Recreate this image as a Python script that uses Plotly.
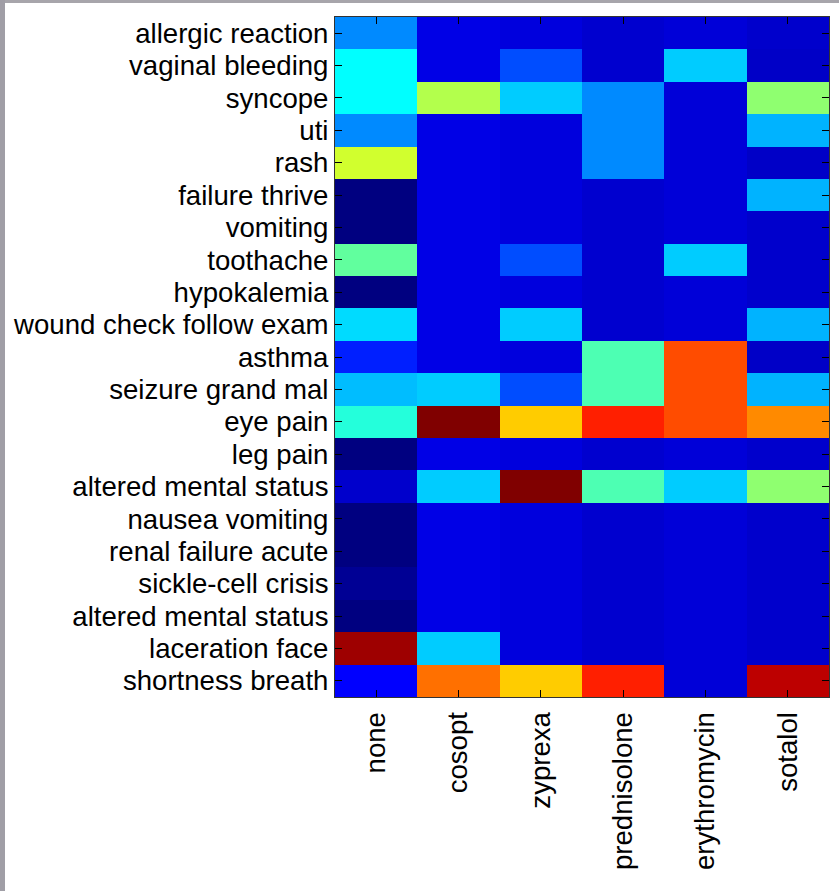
import plotly.graph_objects as go

complaints = ["allergic reaction", "vaginal bleeding", "syncope", "uti", "rash",
              "failure thrive", "vomiting", "toothache", "hypokalemia",
              "wound check follow exam", "asthma", "seizure grand mal", "eye pain",
              "leg pain", "altered mental status", "nausea vomiting",
              "renal failure acute", "sickle-cell crisis", "altered mental status",
              "laceration face", "shortness breath"]
drugs = ["none", "cosopt", "zyprexa", "prednisolone", "erythromycin", "sotalol"]

# values per drug (column), top row to bottom row
none_vals = [0.26, 0.375, 0.375, 0.26, 0.58, 0.0, 0.0, 0.47, 0.0, 0.34, 0.155,
             0.31, 0.41, 0.0, 0.075, 0.0, 0.0, 0.02, 0.0, 0.97, 0.125]
cosopt_vals = [0.10, 0.10, 0.55, 0.10, 0.10, 0.10, 0.10, 0.10, 0.10, 0.10, 0.10,
               0.325, 1.0, 0.10, 0.325, 0.10, 0.10, 0.10, 0.10, 0.325, 0.765]
zyprexa_vals = [0.092, 0.20, 0.325, 0.092, 0.092, 0.092, 0.092, 0.20, 0.092, 0.325, 0.092,
                0.20, 0.675, 0.092, 1.0, 0.092, 0.092, 0.092, 0.092, 0.092, 0.675]
prednisolone_vals = [0.078, 0.078, 0.26, 0.26, 0.26, 0.078, 0.078, 0.078, 0.078, 0.078, 0.45,
                     0.45, 0.845, 0.078, 0.45, 0.078, 0.078, 0.078, 0.078, 0.078, 0.845]
erythromycin_vals = [0.087, 0.325, 0.087, 0.087, 0.087, 0.087, 0.087, 0.325, 0.087, 0.087, 0.80,
                     0.80, 0.80, 0.087, 0.325, 0.087, 0.087, 0.087, 0.087, 0.087, 0.087]
sotalol_vals = [0.075, 0.07, 0.515, 0.30, 0.07, 0.30, 0.075, 0.075, 0.075, 0.30, 0.07,
                0.30, 0.74, 0.075, 0.515, 0.075, 0.075, 0.075, 0.075, 0.075, 0.94]

columns = [none_vals, cosopt_vals, zyprexa_vals, prednisolone_vals, erythromycin_vals, sotalol_vals]
n_rows = len(complaints)
z = [[col[r] for col in columns] for r in range(n_rows)]
xs = list(range(1, len(drugs) + 1))
ys = list(range(1, n_rows + 1))

jet = [[0.0, "rgb(0,0,128)"], [0.125, "rgb(0,0,255)"], [0.375, "rgb(0,255,255)"],
       [0.625, "rgb(255,255,0)"], [0.875, "rgb(255,0,0)"], [1.0, "rgb(128,0,0)"]]

fig = go.Figure(go.Heatmap(z=z, x=xs, y=ys, colorscale=jet, zmin=0, zmax=1,
                           showscale=False))

L, R, T, B = 335, 10, 17, 194
W, H = 839, 891
pw, ph = W - L - R, H - T - B

font = dict(family="Liberation Sans, Arial, sans-serif", size=27.6, color="black")
fig.update_layout(
    width=W, height=H,
    margin=dict(l=L, r=R, t=T, b=B, pad=0),
    paper_bgcolor="white", plot_bgcolor="white",
    font=font,
    xaxis=dict(range=[0.5, len(drugs) + 0.5], tickvals=xs, ticktext=drugs,
               tickangle=-90, ticks="inside", ticklen=7, tickwidth=1, tickcolor="black",
               showline=True, linecolor="#333333", linewidth=1, mirror="ticks",
               showgrid=False, zeroline=False, tickfont=font, layer="above traces",
               ticklabelstandoff=3),
    yaxis=dict(range=[n_rows + 0.5, 0.5], tickvals=ys, ticktext=complaints,
               ticks="inside", ticklen=7, tickwidth=1, tickcolor="black",
               showline=True, linecolor="#333333", linewidth=1, mirror="ticks",
               showgrid=False, zeroline=False, tickfont=font, layer="above traces"),
)

# gray window frame strips (top and left)
def px_x(p):
    return (p - L) / pw

def px_y(p):
    return 1 - (p - T) / ph

fig.add_shape(type="rect", xref="paper", yref="paper",
              x0=px_x(0), x1=px_x(W), y0=px_y(3), y1=px_y(0),
              fillcolor="#a7a5ab", line=dict(width=0), layer="above")
fig.add_shape(type="rect", xref="paper", yref="paper",
              x0=px_x(0), x1=px_x(5), y0=px_y(H), y1=px_y(0),
              fillcolor="#a09ea6", line=dict(width=0), layer="above")

fig.write_html("out.html", config={"displayModeBar": False},
               post_script="document.body.style.margin='0';document.body.style.overflow='hidden';")
